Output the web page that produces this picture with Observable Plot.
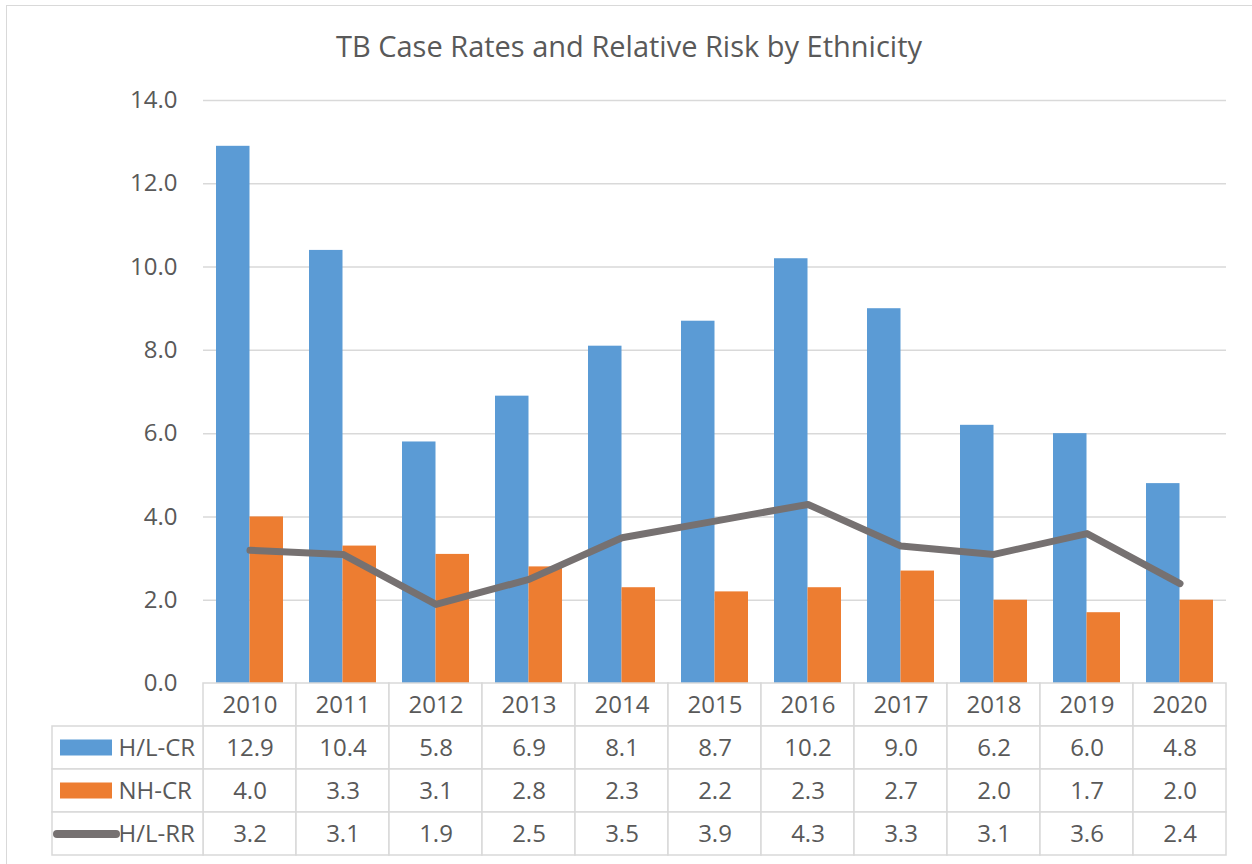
<!DOCTYPE html>
<html>
<head>
<meta charset="utf-8">
<script src="https://cdn.jsdelivr.net/npm/d3@7"></script>
<script src="https://cdn.jsdelivr.net/npm/@observablehq/plot@0.6"></script>
<style>
  html, body { margin: 0; padding: 0; background: white; }
  body { width: 1252px; height: 864px; position: relative; overflow: hidden; font-family: "Open Sans", sans-serif; }
  #frame { position: absolute; left: 6px; top: 5px; width: 1260px; height: 900px; border: 1.5px solid #d9d9d9; box-sizing: border-box; }
  #title { position: absolute; left: 6px; width: 1246px; top: 30px; line-height: 32px; font-size: 29px; color: #595959; text-align: center; }
  #chart { position: absolute; left: 0; top: 0; }
  #table { position: absolute; left: 0; top: 680px; }
</style>
</head>
<body>
<div id="frame"></div>
<div id="title">TB Case Rates and Relative Risk by Ethnicity</div>
<div id="chart"></div>
<div id="table"></div>
<script>
const years = ["2010","2011","2012","2013","2014","2015","2016","2017","2018","2019","2020"];
const hlCR = [12.9, 10.4, 5.8, 6.9, 8.1, 8.7, 10.2, 9.0, 6.2, 6.0, 4.8];
const nhCR = [4.0, 3.3, 3.1, 2.8, 2.3, 2.2, 2.3, 2.7, 2.0, 1.7, 2.0];
const hlRR = [3.2, 3.1, 1.9, 2.5, 3.5, 3.9, 4.3, 3.3, 3.1, 3.6, 2.4];
const yTicks = [0, 2, 4, 6, 8, 10, 12, 14];
const seriesNames = ["H/L-CR", "NH-CR", "H/L-RR"];

const BLUE = "#5b9bd5", ORANGE = "#ed7d31", GRAY = "#767171", TEXT = "#595959", GRID = "#d9d9d9";

const W = 1252, ML = 203, MR = 26;
const FW = W - ML - MR;

const hlData = years.map((y, i) => ({year: y, value: hlCR[i]}));
const nhData = years.map((y, i) => ({year: y, value: nhCR[i]}));
const rrData = years.map((y, i) => ({year: y, value: hlRR[i]}));

const chart = Plot.plot({
  width: W, height: 690,
  marginTop: 100, marginBottom: 7, marginLeft: ML, marginRight: MR,
  style: {background: "transparent", color: TEXT, fontFamily: "Open Sans", fontSize: "24px", overflow: "visible"},
  x: {type: "band", domain: years, paddingInner: 0, paddingOuter: 0, axis: null},
  y: {domain: [0, 14]},
  marks: [
    Plot.gridY(yTicks.filter(d => d > 0), {stroke: GRID, strokeOpacity: 1, strokeWidth: 1.5}),
    Plot.axisY(yTicks, {tickSize: 0, tickPadding: 26, tickFormat: d => d.toFixed(1), fontSize: 24, fill: TEXT, label: null}),
    Plot.barY(hlData, {x: "year", y: "value", fill: BLUE, insetLeft: 13, insetRight: 46.5}),
    Plot.barY(nhData, {x: "year", y: "value", fill: ORANGE, insetLeft: 46.5, insetRight: 13}),
    Plot.line(rrData, {x: "year", y: "value", stroke: GRAY, strokeWidth: 7, strokeLinecap: "round", strokeLinejoin: "round"})
  ]
});
document.getElementById("chart").appendChild(chart);

// Data table
const rows = ["year", ...seriesNames];
const seriesVals = {"H/L-CR": hlCR, "NH-CR": nhCR, "H/L-RR": hlRR};
const cells = [];
years.forEach((y, i) => {
  cells.push({year: y, row: "year", label: y});
  seriesNames.forEach(s => cells.push({year: y, row: s, label: seriesVals[s][i].toFixed(1)}));
});
const legendRows = seriesNames.map(s => ({row: s, label: s}));

const table = Plot.plot({
  width: W, height: 184,
  marginTop: 3, marginBottom: 9, marginLeft: ML, marginRight: MR,
  style: {background: "transparent", color: TEXT, fontFamily: "Open Sans", fontSize: "24px", overflow: "visible"},
  x: {type: "band", domain: years, paddingInner: 0, paddingOuter: 0, axis: null},
  y: {type: "band", domain: rows, paddingInner: 0, paddingOuter: 0, axis: null},
  marks: [
    Plot.cell(cells, {x: "year", y: "row", fill: "white", stroke: GRID, strokeWidth: 1.5}),
    Plot.cell(legendRows, {y: "row", fill: "white", stroke: GRID, strokeWidth: 1.5, insetLeft: -151, insetRight: FW}),
    Plot.text(cells, {x: "year", y: "row", text: "label", fontSize: 24, fill: TEXT}),
    Plot.text(legendRows, {y: "row", text: "label", frameAnchor: "left", textAnchor: "start", dx: -85, fontSize: 24, fill: TEXT}),
    Plot.cell(legendRows.filter(d => d.row === "H/L-CR"), {y: "row", fill: BLUE, insetLeft: -143, insetRight: FW + 91, insetTop: 13.5, insetBottom: 13.5}),
    Plot.cell(legendRows.filter(d => d.row === "NH-CR"), {y: "row", fill: ORANGE, insetLeft: -143, insetRight: FW + 91, insetTop: 13.5, insetBottom: 13.5}),
    Plot.ruleY(legendRows.filter(d => d.row === "H/L-RR"), {y: "row", stroke: GRAY, strokeWidth: 8, strokeLinecap: "round", insetLeft: -146, insetRight: FW + 87})
  ]
});
document.getElementById("table").appendChild(table);
</script>
</body>
</html>
